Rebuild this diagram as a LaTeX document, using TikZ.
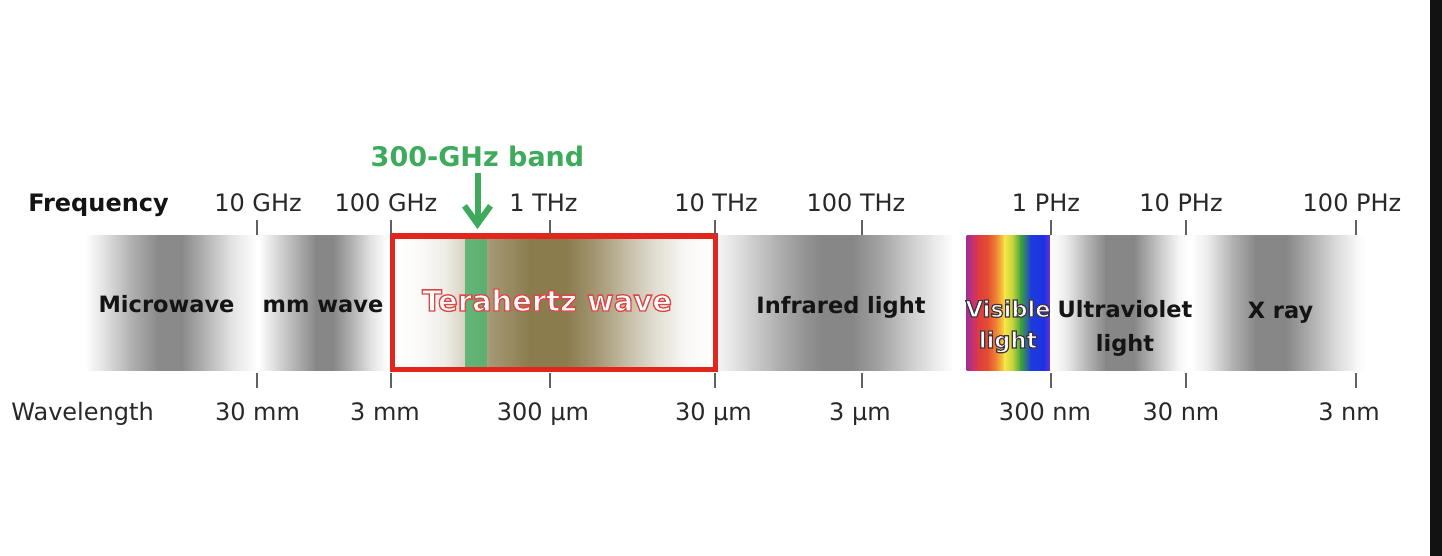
\documentclass[tikz,border=0pt]{standalone}
\usepackage{fontspec}
\setmainfont{DejaVu Sans}
\usetikzlibrary{arrows.meta}
\definecolor{thz}{RGB}{139,124,78}
\definecolor{grn}{RGB}{62,170,92}
\definecolor{grnband}{RGB}{80,178,110}
\definecolor{redbox}{RGB}{226,38,30}
\definecolor{ticktext}{RGB}{40,40,40}
\definecolor{labeltext}{RGB}{20,20,20}
\definecolor{vis1}{RGB}{160,48,144}
\definecolor{vis2}{RGB}{200,50,110}
\definecolor{vis3}{RGB}{225,60,60}
\definecolor{vis4}{RGB}{228,80,50}
\definecolor{vis5}{RGB}{240,140,50}
\definecolor{vis6}{RGB}{245,230,70}
\definecolor{vis7}{RGB}{190,210,60}
\definecolor{vis8}{RGB}{60,160,60}
\definecolor{vis9}{RGB}{30,60,220}
\definecolor{vis10}{RGB}{30,50,230}
\definecolor{vis11}{RGB}{110,50,200}
\newcommand\gradband[1]{%
  \foreach \xx/\cc [remember=\xx as \px (initially -1), remember=\cc as \pc (initially white)] in {#1}{%
    \ifdim\px pt>0pt
      \shade[left color=\pc, right color=\cc] (\px-0.3,236) rectangle (\xx+0.3,370);
    \fi}}
\newcommand\strokedtext[3]{\special{pdf:literal direct 2 Tr #2 w #1 RG}#3\special{pdf:literal direct 0 Tr}}
\tikzset{
  ticklbl/.style={anchor=base, inner sep=0pt, text=ticktext, font=\fontsize{12}{14}\selectfont},
  bandlbl/.style={anchor=base, inner sep=0pt, text=labeltext, font=\fontsize{11.25}{14}\selectfont\bfseries},
  tickmark/.style={draw=black!62, line width=1pt},
}
\begin{document}
\begin{tikzpicture}[x=0.5pt, y=-0.5pt]
\useasboundingbox (0,0) rectangle (1442,556);
\fill[white] (0,0) rectangle (1442,556);
\fill[black!93] (1430,0) rectangle (1442,556);
% gradients
\gradband{85/white, 105/black!12, 130/black!30, 158/black!46, 182/black!46, 205/black!30, 230/black!12, 256/white}
\gradband{259/white, 280/black!18, 300/black!34, 316/black!47, 333/black!47, 352/black!30, 370/black!12, 387/white}
\gradband{393/white, 420/thz!4!white, 445/thz!14!white, 465/thz!35!white, 490/thz!78!white, 530/thz, 566/thz, 595/thz!80!white, 625/thz!52!white, 655/thz!26!white, 685/thz!6!white, 714/white}
\gradband{718/black!4, 745/black!16, 775/black!30, 805/black!42, 822/black!47, 852/black!47, 880/black!36, 910/black!20, 935/black!8, 953/white}
\gradband{967/vis1, 973/vis2, 979/vis3, 988/vis4, 997/vis5, 1005/vis6, 1013/vis7, 1021/vis8, 1031/vis9, 1044/vis10, 1050/vis11}
\gradband{1051/white, 1066/black!8, 1086/black!28, 1106/black!47, 1134/black!47, 1156/black!25, 1178/black!4, 1188/white}
\gradband{1192/white, 1208/black!8, 1232/black!30, 1256/black!47, 1286/black!47, 1310/black!32, 1335/black!15, 1357/black!3, 1366/white}
% 300 GHz band
\fill[grnband, opacity=0.85] (465,236) rectangle (487,370);
% terahertz box
\draw[redbox, line width=2.6pt] (392.5,236) rectangle (715.5,369.5);
% ticks
\foreach \t in {257,391,550,715,861.5,1051,1186,1356}{
  \draw[tickmark] (\t,220) -- (\t,235);
  \draw[tickmark] (\t,373) -- (\t,388);
}
% frequency row
\node[ticklbl, text=labeltext, font=\fontsize{12}{14}\selectfont\bfseries] (freq) at (98.5,212) {Frequency};
\node[ticklbl] (f1) at (258,212) {10 GHz};
\node[ticklbl] (f2) at (386,212) {100 GHz};
\node[ticklbl] (f3) at (543.5,212) {1 THz};
\node[ticklbl] (f4) at (716,212) {10 THz};
\node[ticklbl] (f5) at (856,212) {100 THz};
\node[ticklbl] (f6) at (1046,212) {1 PHz};
\node[ticklbl] (f7) at (1181,212) {10 PHz};
\node[ticklbl] (f8) at (1352,212) {100 PHz};
% wavelength row
\node[ticklbl] (wl) at (82.5,420) {Wavelength};
\node[ticklbl] (w1) at (257.5,420) {30 mm};
\node[ticklbl] (w2) at (385,420) {3 mm};
\node[ticklbl] (w3) at (543,420) {300 μm};
\node[ticklbl] (w4) at (713.5,420) {30 μm};
\node[ticklbl] (w5) at (860,420) {3 μm};
\node[ticklbl] (w6) at (1045,420) {300 nm};
\node[ticklbl] (w7) at (1181,420) {30 nm};
\node[ticklbl] (w8) at (1349,420) {3 nm};
% band labels
\node[bandlbl] (mw) at (166.5,313) {Microwave};
\node[bandlbl] (mmw) at (323,313) {mm wave};
\node[bandlbl] (ir) at (841,314) {Infrared light};
\node[bandlbl, align=center, font=\fontsize{11.25}{17}\selectfont\bfseries] (uv) at (1125,351) {Ultraviolet\\light};
\node[bandlbl] (xr) at (1280.5,318) {X ray};
% 300 GHz label and arrow
\node[anchor=base, inner sep=0pt, text=grn, font=\fontsize{13.5}{16}\selectfont\bfseries] (ghz) at (477.5,167) {300-GHz band};
\coordinate (ghztip) at (477.5,229);
\draw[grn, line width=3pt, shorten <=2.5pt, -{Straight Barb[length=9pt,width=13pt]}] (ghz.south) -- (ghztip);
% outlined labels
\node[anchor=base, inner sep=0pt, text=white, font=\fontsize{14.5}{17}\selectfont\bfseries] (thzlbl) at (547,311) {\strokedtext{0.88 0.27 0.27}{0.65}{Terahertz wave}};
\node[anchor=base, inner sep=0pt, text=white, align=center, font=\fontsize{11.25}{15.5}\selectfont\bfseries] (vis) at (1008,348) {\strokedtext{0.25 0.2 0.25}{0.6}{Visible}\\\strokedtext{0.25 0.2 0.25}{0.6}{light}};
\end{tikzpicture}
\end{document}
